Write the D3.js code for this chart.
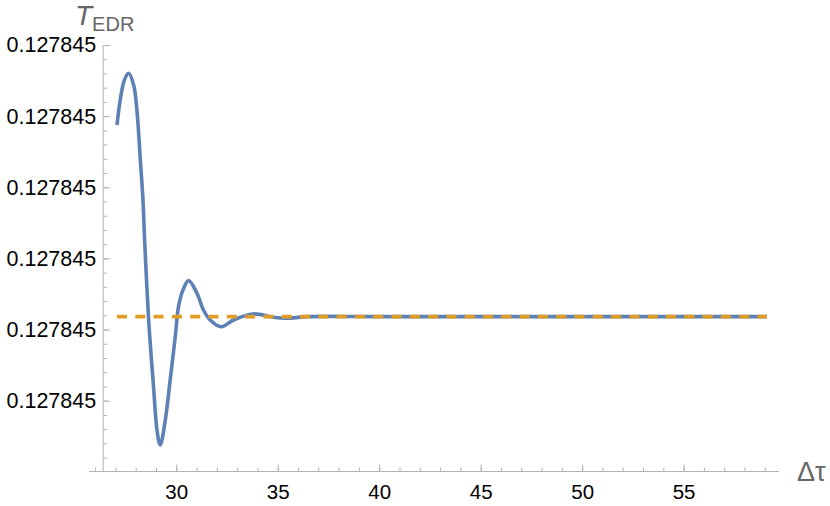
<!DOCTYPE html>
<html>
<head>
<meta charset="utf-8">
<script src="https://cdn.jsdelivr.net/npm/d3@7"></script>
<style>
  html, body { margin: 0; padding: 0; background: #fff; }
  svg text { font-family: "Liberation Sans", Arial, sans-serif; }
</style>
</head>
<body>
<svg id="chart" width="830" height="506"></svg>
<script>
// ---- data (y values are offsets in units of the y major tick step) ----
const tau = [27.08, 27.24, 27.44, 27.65, 27.90, 28.06, 28.23, 28.36, 28.44, 28.56, 28.67, 28.88, 29.05, 29.21,
             29.46, 29.70, 29.95, 30.11, 30.33, 30.61, 31.02, 31.34, 31.67, 32.22, 32.82, 33.79,
             34.79, 35.45, 36.44, 40, 45, 50, 55, 59.1];
const tEDR = [3.875, 4.230, 4.503, 4.602, 4.437, 4.086, 3.383, 2.821, 2.259, 1.556, 0.994, 0.197, -0.412, -0.623,
              -0.271, 0.291, 0.900, 1.321, 1.556, 1.687, 1.510, 1.275, 1.135, 1.040, 1.134, 1.219,
              1.172, 1.158, 1.181, 1.181, 1.181, 1.181, 1.181, 1.181];
const limitTau = [27.08, 59.1];
const limitValue = [1.181, 1.181];

const xMajorTicks = [30, 35, 40, 45, 50, 55];
const xMinorTicks = d3.range(26, 60, 1);
const yMajorTicks = [0, 1, 2, 3, 4, 5];
const yTickLabels = ["0.127845", "0.127845", "0.127845", "0.127845", "0.127845", "0.127845"];
const yMinorTicks = d3.range(-0.8, 5.001, 0.2).map(d => +d.toFixed(2));

// ---- scales ----
const svg = d3.select("#chart");
const x = d3.scaleLinear().domain([25.7, 59.7]).range([89, 779]);
const y = d3.scaleLinear().domain([-1, 5]).range([471.8, 45]);
const axisX = 103.2;
const axisY = 471.5;
const axisColor = "#b3b3b3";

// ---- x axis ----
const gx = svg.append("g").attr("transform", `translate(0,${axisY})`);
gx.call(d3.axisBottom(x).tickValues(xMinorTicks).tickSize(-4).tickFormat(""));
gx.call(g => g.selectAll(".tick line").attr("stroke", axisColor));
const gx2 = svg.append("g").attr("transform", `translate(0,${axisY})`);
gx2.call(d3.axisBottom(x).tickValues(xMajorTicks).tickSize(-7).tickPadding(13).tickFormat(d3.format("d")));
gx2.selectAll(".tick line").attr("stroke", axisColor);
gx2.selectAll(".domain").remove();
gx.select(".domain").remove();
gx2.selectAll("text").attr("font-size", 20.5).attr("fill", "#000");
svg.append("line").attr("x1", x(25.7)).attr("x2", x(59.7)).attr("y1", axisY).attr("y2", axisY)
   .attr("stroke", axisColor).attr("stroke-width", 1);

// ---- y axis ----
const gy = svg.append("g").attr("transform", `translate(${axisX},0)`);
gy.call(d3.axisLeft(y).tickValues(yMinorTicks).tickSize(-4).tickFormat(""));
gy.select(".domain").remove();
gy.selectAll(".tick line").attr("stroke", axisColor);
const gy2 = svg.append("g").attr("transform", `translate(${axisX},0)`);
gy2.call(d3.axisLeft(y).tickValues(yMajorTicks).tickSize(-7).tickPadding(7)
   .tickFormat((d, i) => yTickLabels[i]));
gy2.select(".domain").remove();
gy2.selectAll(".tick line").attr("stroke", axisColor);
gy2.selectAll("text").attr("font-size", 21.5).attr("fill", "#000");
svg.append("line").attr("x1", axisX).attr("x2", axisX).attr("y1", y(5)).attr("y2", axisY)
   .attr("stroke", axisColor).attr("stroke-width", 1);

// ---- axis labels ----
const tl = svg.append("text").attr("x", 75).attr("y", 25).attr("fill", "#666").attr("font-size", 28);
tl.append("tspan").attr("font-style", "italic").text("T");
tl.append("tspan").attr("font-size", 20).attr("dy", 6).text("EDR");
svg.append("text").attr("x", 797).attr("y", 481).attr("fill", "#666").attr("font-size", 27).text("Δτ");

// ---- series ----
const line = d3.line().x(d => x(d[0])).y(d => y(d[1])).curve(d3.curveCatmullRom.alpha(0.5));
svg.append("path").datum(d3.zip(tau, tEDR)).attr("d", line)
   .attr("fill", "none").attr("stroke", "#5e81b5").attr("stroke-width", 3.6);
svg.append("path").datum(d3.zip(limitTau, limitValue)).attr("d", line)
   .attr("fill", "none").attr("stroke", "#e19c24").attr("stroke-width", 3.6)
   .attr("stroke-dasharray", "10,8.3");
</script>
</body>
</html>
